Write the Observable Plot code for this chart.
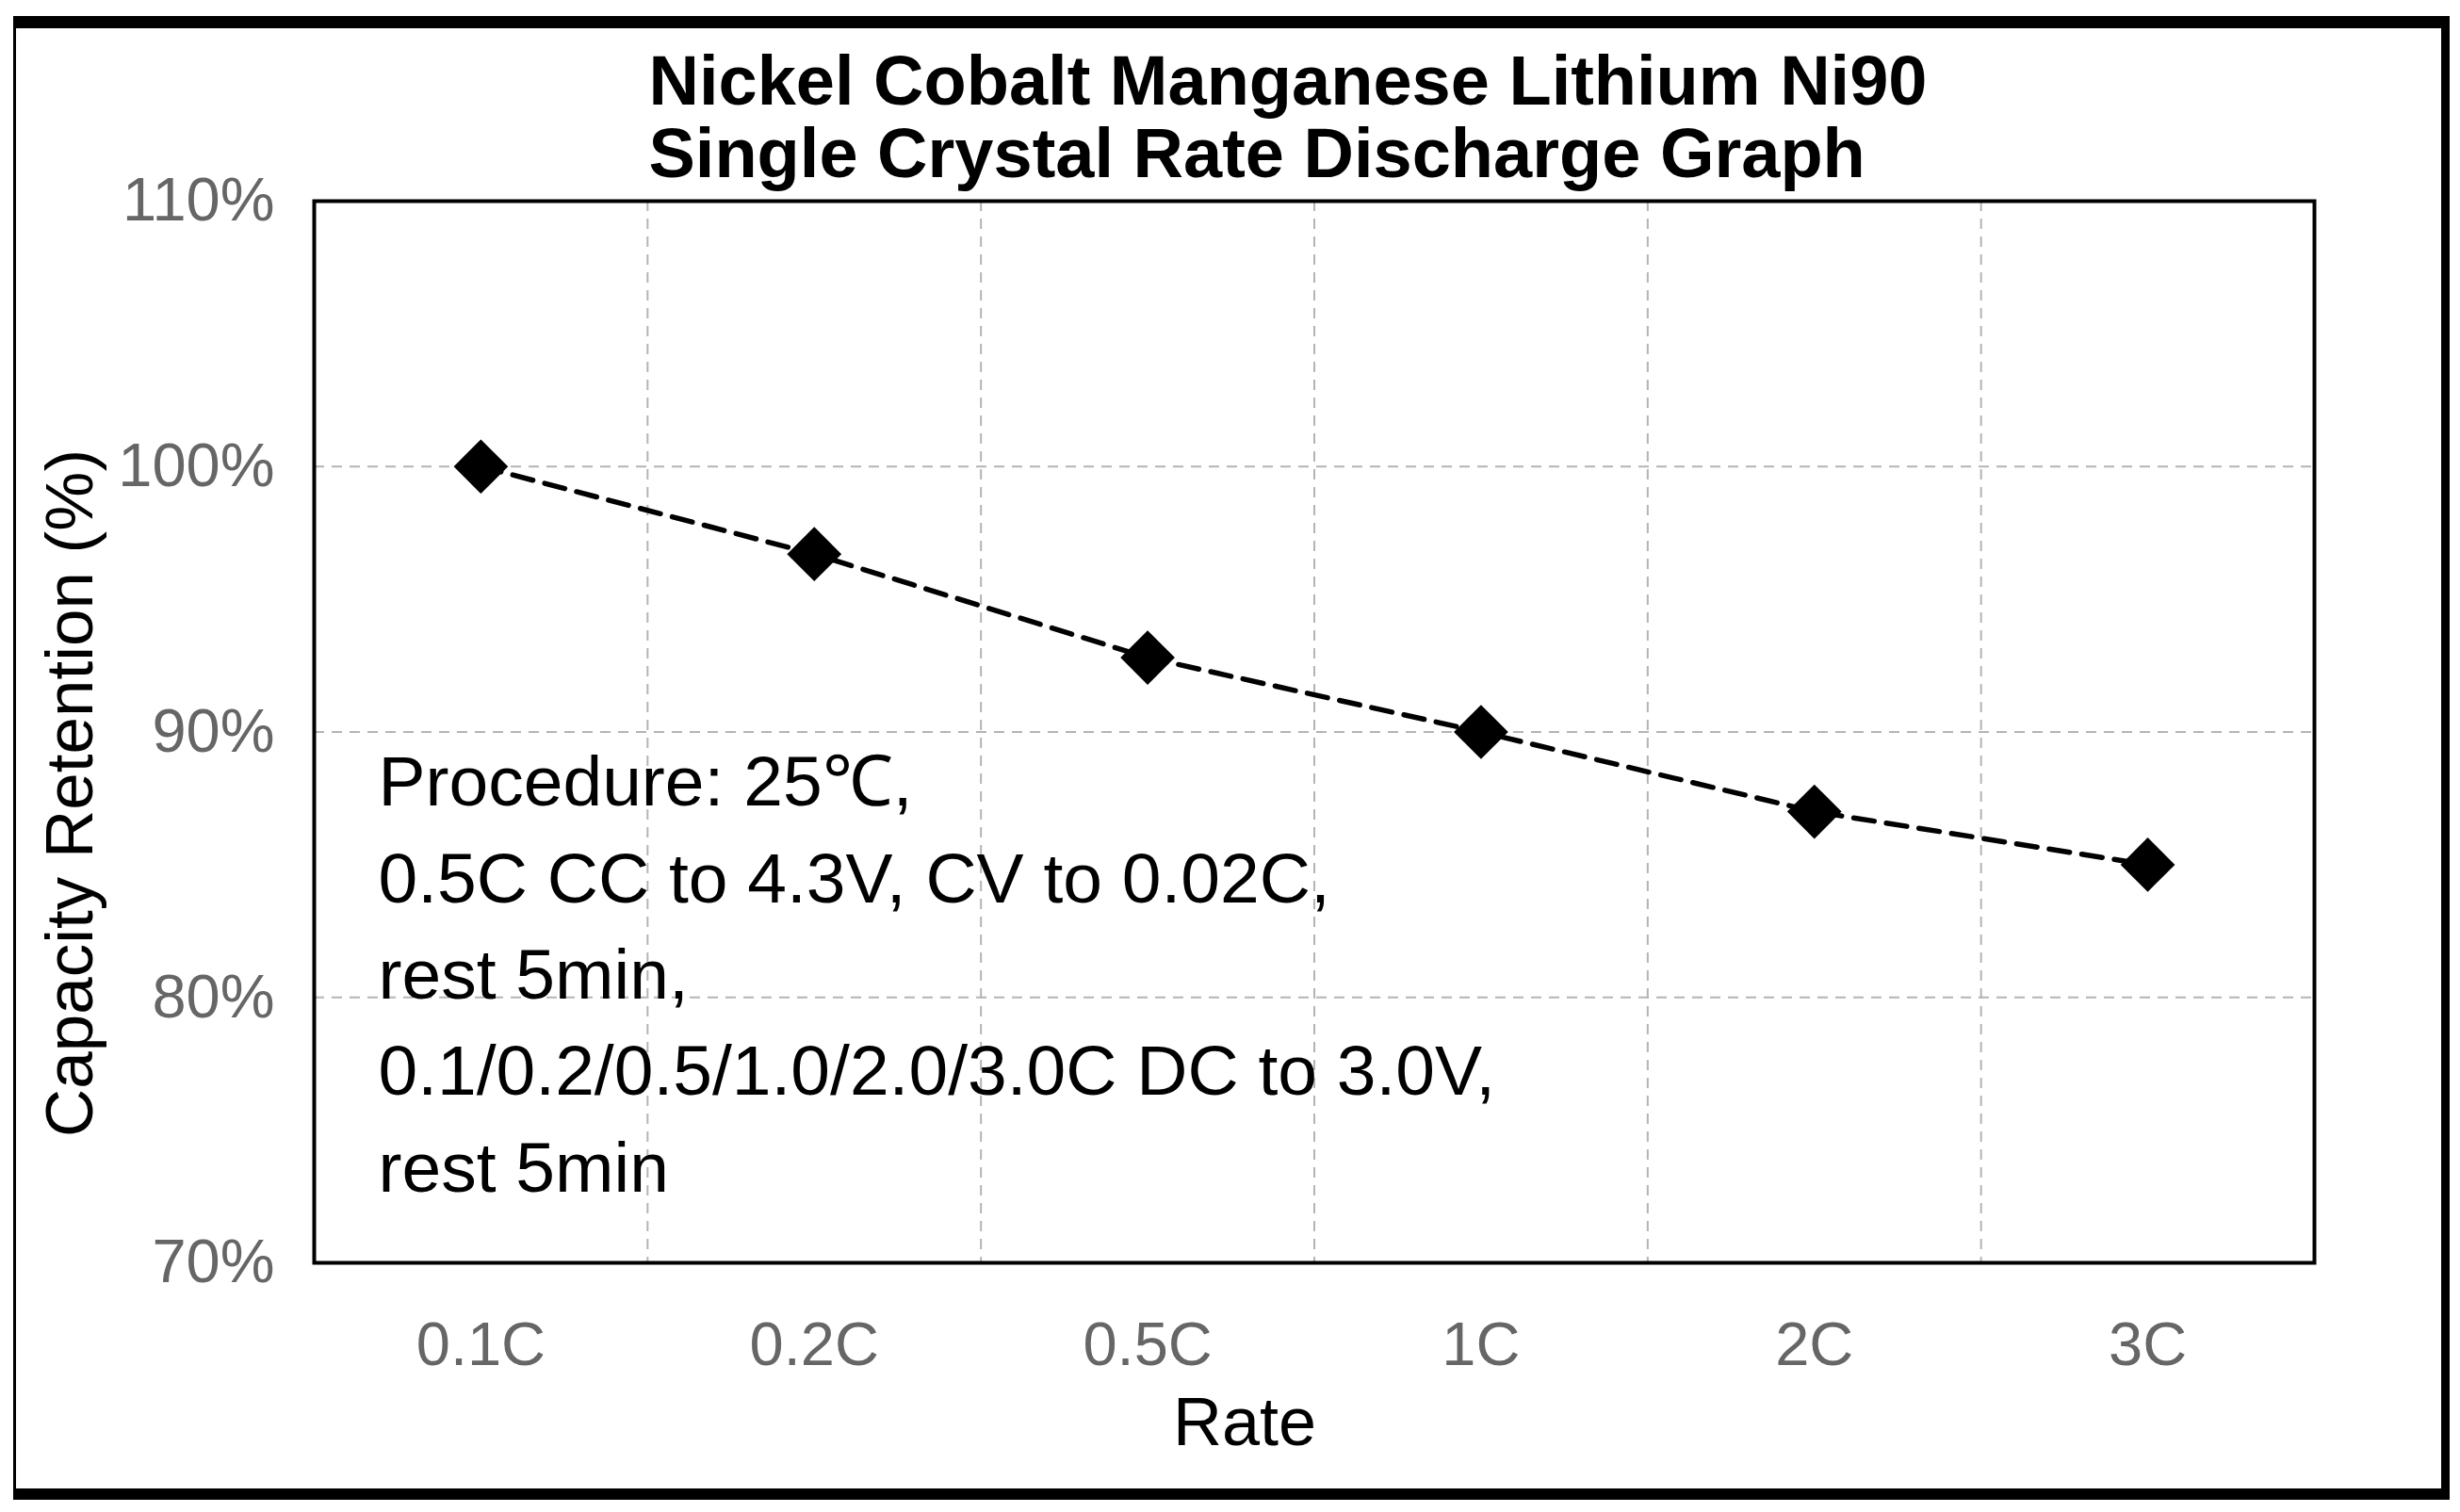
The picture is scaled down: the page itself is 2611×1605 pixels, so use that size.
<!DOCTYPE html>
<html><head><meta charset="utf-8">
<script src="https://cdn.jsdelivr.net/npm/d3@7"></script>
<script src="https://cdn.jsdelivr.net/npm/@observablehq/plot@0.6"></script>
<style>
html,body{margin:0;padding:0;background:#fff;overflow:hidden;}
#wrap{position:relative;width:2611px;height:1605px;}
#wrap svg{position:absolute;left:0;top:0;}
#border{position:absolute;left:14px;top:17px;width:2586px;height:1575px;box-sizing:border-box;border-style:solid;border-color:#000;border-width:13px 9px 12px 3px;pointer-events:none;z-index:2;}
</style></head><body>
<div id="wrap"><div id="border"></div></div>
<script>
const rates = ["0.1C", "0.2C", "0.5C", "1C", "2C", "3C"];
const retention = [100, 96.7, 92.8, 90.0, 87.0, 85.0];
const yTicks = [70, 80, 90, 100, 110];
const yGrid = [80, 90, 100];
const titleText = "Nickel Cobalt Manganese Lithium Ni90\nSingle Crystal Rate Discharge Graph";
const yLabel = "Capacity Retention (%)";
const xLabel = "Rate";
const procedureLines = [
  "Procedure: 25℃,",
  "0.5C CC to 4.3V, CV to 0.02C,",
  "rest 5min,",
  "0.1/0.2/0.5/1.0/2.0/3.0C DC to 3.0V,",
  "rest 5min"
];

const data = rates.map((rate, i) => ({rate, pos: i + 0.5, value: retention[i]}));
const xTickPos = rates.map((r, i) => i + 0.5);
const xGridPos = d3.range(1, rates.length);
const tickFont = "'Liberation Sans', Arial, sans-serif";
const mainFont = "'Liberation Sans', Arial, sans-serif";

const chart = Plot.plot({
  width: 2611,
  height: 1605,
  marginLeft: 333,
  marginRight: 155,
  marginTop: 213,
  marginBottom: 265,
  style: {background: "transparent", fontFamily: mainFont, color: "#000"},
  x: {type: "linear", domain: [0, rates.length]},
  y: {type: "linear", domain: [70, 110]},
  marks: [
    Plot.gridX(xGridPos, {stroke: "#b4b4b4", strokeOpacity: 1, strokeWidth: 2, strokeDasharray: "11,8"}),
    Plot.gridY(yGrid, {stroke: "#b4b4b4", strokeOpacity: 1, strokeWidth: 2, strokeDasharray: "11,8"}),
    Plot.axisX(xTickPos, {tickSize: 0, tickPadding: 62, tickFormat: d => rates[Math.floor(d)], label: null,
      fontSize: 65, fontFamily: tickFont, fill: "#666"}),
    Plot.axisY(yTicks, {tickSize: 0, tickPadding: 42, tickFormat: d => d + "%", label: null,
      fontSize: 65, fontFamily: tickFont, fill: "#666"}),
    Plot.frame({stroke: "#000", strokeWidth: 4}),
    Plot.line(data, {x: "pos", y: "value", stroke: "#000", strokeWidth: 5.5, strokeDasharray: "22,13"}),
    Plot.dot(data, {x: "pos", y: "value", symbol: "diamond2", r: 26, fill: "#000", stroke: "none"}),
    Plot.text([titleText], {frameAnchor: "top-left", dx: 355, dy: -26, textAnchor: "start", lineAnchor: "bottom",
      lineHeight: 1.04, fontSize: 74, fontWeight: "bold", fill: "#000"}),
    Plot.text([procedureLines.join("\n")], {frameAnchor: "top-left", dx: 68, dy: 1051, textAnchor: "start",
      lineAnchor: "bottom", lineHeight: 1.364, fontSize: 75, fill: "#000"}),
    Plot.text([yLabel], {frameAnchor: "left", rotate: -90, dx: -258, dy: 65, textAnchor: "middle",
      lineAnchor: "middle", fontSize: 71, fill: "#000"}),
    Plot.text([xLabel], {frameAnchor: "bottom", dx: -74, dy: 193, textAnchor: "middle", lineAnchor: "bottom",
      fontSize: 72, fill: "#000"})
  ]
});
document.getElementById("wrap").appendChild(chart);
</script>
</body></html>
